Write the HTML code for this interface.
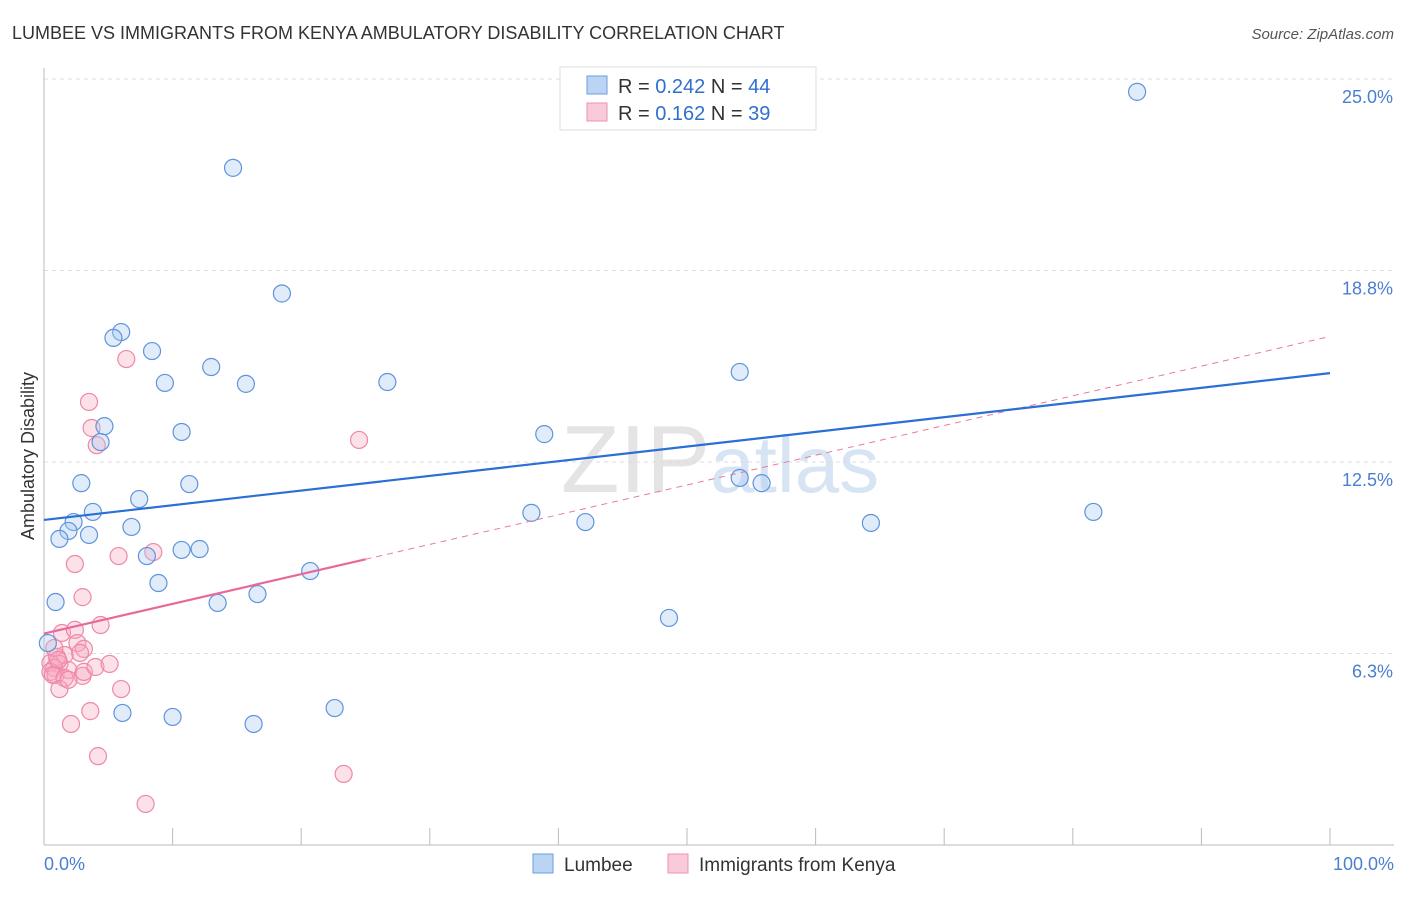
<!DOCTYPE html>
<html><head><meta charset="utf-8"><style>
body{margin:0;background:#fff;font-family:"Liberation Sans",sans-serif;}
svg text{font-family:"Liberation Sans",sans-serif;}
</style></head><body>
<svg id="chart" width="1406" height="892">
<text x="12" y="39" font-size="18" fill="#333">LUMBEE VS IMMIGRANTS FROM KENYA AMBULATORY DISABILITY CORRELATION CHART</text>
<text x="1394" y="39" font-size="15" fill="#555" font-style="italic" text-anchor="end">Source: ZipAtlas.com</text>
<text x="720" y="492" font-size="96" fill="#e4e4e4" text-anchor="middle" font-family="Liberation Serif">ZIP<tspan fill="#d6e4f4" font-family="Liberation Sans" font-size="80">atlas</tspan></text>
<g id="grid"></g>
<line x1="44" y1="68" x2="44" y2="845" stroke="#bbb"/>
<line x1="44" y1="845" x2="1394" y2="845" stroke="#bbb"/>
<g id="xticks"></g>
<g id="ylabels"></g>
<text x="44" y="870" font-size="18" fill="#4a7fd0">0.0%</text>
<text x="1394" y="870" font-size="18" fill="#4a7fd0" text-anchor="end">100.0%</text>
<text transform="translate(34,456) rotate(-90)" font-size="18" fill="#333" text-anchor="middle">Ambulatory Disability</text>
<g id="pts"></g>
<g id="trends"></g>
<g>
<rect x="560" y="67" width="256" height="63" fill="#fff" stroke="#ddd"/>
<rect x="587" y="76" width="20" height="18" fill="#bcd4f4" stroke="#6a9ee0"/>
<text x="618" y="93" font-size="20" fill="#333">R = <tspan fill="#2f6fd0">0.242</tspan>    N = <tspan fill="#2f6fd0">44</tspan></text>
<rect x="587" y="103" width="20" height="18" fill="#f9cad8" stroke="#f090b0"/>
<text x="618" y="120" font-size="20" fill="#333">R =  <tspan fill="#2f6fd0">0.162</tspan>    N =  <tspan fill="#2f6fd0">39</tspan></text>
</g>
<g>
<rect x="533" y="854" width="20" height="19" fill="#bcd4f4" stroke="#6a9ee0"/>
<text x="564" y="871" font-size="19" fill="#333">Lumbee</text>
<rect x="668" y="854" width="20" height="19" fill="#f9cad8" stroke="#f090b0"/>
<text x="699" y="871" font-size="19" fill="#333">Immigrants from Kenya</text>
</g>
</svg>
<script>
const blueX=[85.0,14.7,18.5,6.0,5.4,8.4,9.4,13.0,15.7,26.7,54.1,4.7,4.4,10.7,38.9,2.9,7.4,11.3,54.1,55.8,3.8,2.3,6.8,1.9,1.2,3.5,37.9,42.1,64.3,81.6,10.7,12.1,8.0,8.9,20.7,16.6,13.5,0.9,48.6,0.3,6.1,10.0,16.3,22.6];
const blueY=[24.58,22.1,18.0,16.74,16.55,16.12,15.08,15.6,15.05,15.11,15.44,13.67,13.15,13.48,13.41,11.81,11.29,11.78,11.98,11.81,10.87,10.54,10.38,10.25,9.99,10.12,10.84,10.54,10.51,10.87,9.63,9.66,9.43,8.55,8.94,8.19,7.9,7.93,7.41,6.59,4.31,4.18,3.95,4.47];
const pinkX=[6.4,3.5,3.7,4.1,24.5,8.5,5.8,2.4,3.0,4.4,1.4,2.4,2.6,3.1,2.8,1.6,1.0,0.5,1.2,0.8,0.5,0.9,1.9,0.7,3.0,1.6,3.1,4.0,5.1,6.0,1.2,3.6,2.1,4.2,23.3,7.9,0.8,1.1,1.9];
const pinkY=[15.86,14.46,13.61,13.05,13.22,9.56,9.43,9.17,8.09,7.18,6.92,7.02,6.59,6.4,6.27,6.2,6.14,5.94,5.91,5.78,5.65,5.55,5.71,5.55,5.52,5.45,5.65,5.81,5.91,5.09,5.09,4.37,3.95,2.9,2.32,1.34,6.43,6.04,5.39];
const blueTrend=[10.61,15.4];
const pinkTrend=[6.9,16.6];
const pinkSolidEnd=25;
const yTicks=[6.25,12.5,18.75,25];
const yTickLabels=["6.3%","12.5%","18.8%","25.0%"];
const xTicks=[0,10,20,30,40,50,60,70,80,90,100];
const NS="http://www.w3.org/2000/svg";
const X0=44,X1=1330,Y0=845,Y1=79;
function sx(p){return X0+(X1-X0)*p/100;}
function sy(v){return Y0-(Y0-Y1)*v/25;}
function mk(tag,attrs,parent){const e=document.createElementNS(NS,tag);for(const k in attrs)e.setAttribute(k,attrs[k]);parent.appendChild(e);return e;}
const grid=document.getElementById('grid'),yl=document.getElementById('ylabels'),xt=document.getElementById('xticks'),pts=document.getElementById('pts'),tr=document.getElementById('trends');
yTicks.forEach((t,i)=>{
 const l=mk('line',{x1:44,x2:1394,y1:sy(t),y2:sy(t),stroke:'#ddd','stroke-dasharray':'4,4'},grid);
 
 
 const tx=mk('text',{x:1393,y:sy(t)+24,'font-size':18,fill:'#4a7fd0','text-anchor':'end'},yl);
 tx.textContent=yTickLabels[i];
 
 
});
xTicks.forEach(t=>{
 const l=mk('line',{x1:sx(t),x2:sx(t),y1:828,y2:845,stroke:'#bbb'},xt);
 
 
});
function dots(xs,ys,fill,stroke,name){
 xs.forEach((x,i)=>{
  const c=mk('circle',{cx:sx(x),cy:sy(ys[i]),r:8.5,fill:fill,'fill-opacity':0.35,stroke:stroke,'stroke-width':1.2},pts);
  
  
 });
}
dots(pinkX,pinkY,'#f5a8c0','#ee88a8','kenya-point');
dots(blueX,blueY,'#a8c8f0','#5f94dc','lumbee-point');
const pd=mk('line',{x1:sx(0),y1:sy(pinkTrend[0]),x2:sx(100),y2:sy(pinkTrend[1]),stroke:'#e87aa0','stroke-width':1,'stroke-dasharray':'6,5'},tr);


const pe=pinkTrend[0]+(pinkTrend[1]-pinkTrend[0])*pinkSolidEnd/100;
const ps=mk('line',{x1:sx(0),y1:sy(pinkTrend[0]),x2:sx(pinkSolidEnd),y2:sy(pe),stroke:'#e8689a','stroke-width':2.2},tr);


const bl=mk('line',{x1:sx(0),y1:sy(blueTrend[0]),x2:sx(100),y2:sy(blueTrend[1]),stroke:'#2a6fd4','stroke-width':2.2},tr);


</script>
</body></html>
